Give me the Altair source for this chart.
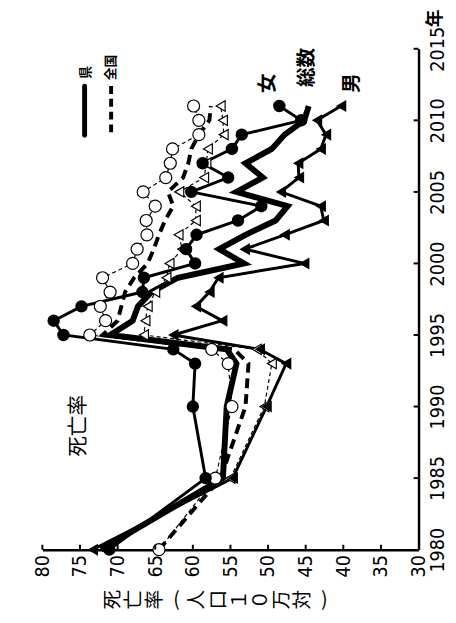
import altair as alt
import pandas as pd

# ---- data ----
years = [1980, 1985, 1990, 1993, 1994, 1995, 1996, 1997, 1998, 1999, 2000,
         2001, 2002, 2003, 2004, 2005, 2006, 2007, 2008, 2009, 2010, 2011]

pref_total = [72.2, 56.0, 55.5, 54.2, 55.5, 71.0, 68.0, 67.3, 65.5, 62.0, 53.2,
              56.5, 53.0, 49.0, 47.4, 54.2, 50.7, 53.0, 49.5, 47.8, 45.2, 44.6]
pref_female = [71.1, 58.3, 60.0, 59.7, 62.6, 77.2, 78.5, 74.8, 66.7, 66.5, 59.7,
               60.9, 59.5, 54.0, 50.9, 60.2, 55.3, 58.7, 54.8, 53.5, 45.6, 48.5]
pref_male = [73.3, 54.7, 50.2, 47.6, 51.1, 62.6, 56.1, 59.6, 57.8, 56.6, 45.2,
             53.1, 47.8, 42.6, 43.0, 48.3, 45.9, 46.0, 43.0, 42.3, 43.5, 40.3]
nat_total = [64.5, 56.3, 53.0, 52.6, 54.5, 72.0, 70.0, 69.5, 69.0, 67.8, 66.0,
             65.2, 64.5, 63.7, 62.6, 63.3, 61.3, 60.6, 60.2, 59.2, 57.8, 57.6]
nat_female = [64.5, 57.0, 54.8, 55.3, 57.5, 73.7, 71.6, 72.3, 71.0, 72.0, 68.0,
              67.4, 66.1, 66.2, 65.0, 66.6, 63.6, 63.0, 62.7, 59.2, 59.2, 59.9]
nat_male = [None, 55.0, 50.5, 49.5, 51.5, 66.5, 66.3, 66.0, 65.0, 63.5, 63.1,
            61.4, 61.9, 59.6, 59.6, 61.8, 58.5, 58.2, 58.0, 55.9, 56.0, 56.3]

rate_ticks = [35, 40, 45, 50, 55, 60, 65, 70, 75, 80]
year_ticks = [1985, 1990, 1995, 2000, 2005, 2010, 2015]
rate_labels = [30, 35, 40, 45, 50, 55, 60, 65, 70, 75, 80]
year_labels = [1980, 1985, 1990, 1995, 2000, 2005, 2010, 2015]

title_chars = ["死", "亡", "率", "(", "人", "口", "１", "０", "万", "対", ")"]

series = {
    "pref_total": pref_total, "pref_female": pref_female, "pref_male": pref_male,
    "nat_total": nat_total, "nat_female": nat_female, "nat_male": nat_male,
}
rows = []
for name, vals in series.items():
    for yr, v in zip(years, vals):
        if v is not None:
            rows.append({"series": name, "year": yr, "rate": v})
df = pd.DataFrame(rows)

W, H = 383, 510
NARROW = "Liberation Sans Narrow, DejaVu Sans Condensed, Arial Narrow, sans-serif"
JP = "Noto Sans CJK JP"

x_enc = alt.X("rate:Q", scale=alt.Scale(domain=[30, 80], reverse=True),
              axis=alt.Axis(orient="bottom", values=rate_labels, labelAngle=270,
                            labelAlign="right", labelBaseline="middle",
                            labelFont=NARROW, labelFontSize=20, labelColor="black",
                            labelPadding=5, ticks=False, grid=False, title=None,
                            domainColor="black", domainWidth=2.5,
                            labelOverlap=False, labelFlush=False))
y_enc = alt.Y("year:Q", scale=alt.Scale(domain=[1980, 2015]),
              axis=alt.Axis(orient="right", values=year_labels, format="d",
                            labelAngle=270, labelAlign="center", labelBaseline="top",
                            labelFont=NARROW, labelFontSize=20, labelColor="black",
                            labelPadding=9, ticks=False, grid=False, title=None,
                            domainColor="black", domainWidth=2.5,
                            labelOverlap=False, labelFlush=False))

base = alt.Chart(df).encode(x=x_enc, y=y_enc, order=alt.Order("year:Q"))


def sel(name):
    return alt.datum.series == name


layers = []
# national lines
layers.append(base.transform_filter(sel("nat_female")).mark_line(
    color="black", strokeWidth=1.2, strokeDash=[4, 3]))
layers.append(base.transform_filter(sel("nat_male")).mark_line(
    color="black", strokeWidth=1.2, strokeDash=[4, 3]))
layers.append(base.transform_filter(sel("nat_total")).mark_line(
    color="black", strokeWidth=4, strokeDash=[10, 6]))
# prefecture lines
layers.append(base.transform_filter(sel("pref_female")).mark_line(
    color="black", strokeWidth=3))
layers.append(base.transform_filter(sel("pref_male")).mark_line(
    color="black", strokeWidth=3))
layers.append(base.transform_filter(sel("pref_total")).mark_line(
    color="black", strokeWidth=6))
# national markers
layers.append(base.transform_filter(sel("nat_female")).mark_point(
    shape="circle", filled=True, fill="white", stroke="black", strokeWidth=1.2,
    size=150, opacity=1))
layers.append(base.transform_filter(sel("nat_male")).mark_point(
    shape="triangle-left", filled=True, fill="white", stroke="black", strokeWidth=1.2,
    size=110, opacity=1))
# prefecture markers
layers.append(base.transform_filter(sel("pref_female")).mark_point(
    shape="circle", filled=True, color="black", size=160, opacity=1))
layers.append(base.transform_filter(sel("pref_male")).mark_point(
    shape="triangle-left", filled=True, color="black", size=150, opacity=1))

# inward tick marks (same encodings so the axes merge)
tick_r = alt.Chart(pd.DataFrame({"rate": rate_ticks})).mark_rule(
    color="black", strokeWidth=2).encode(
    x=x_enc, y=alt.value(H), y2=alt.value(H - 5))
tick_y = alt.Chart(pd.DataFrame({"year": year_ticks})).mark_rule(
    color="black", strokeWidth=2).encode(
    y=y_enc, x=alt.value(W), x2=alt.value(W - 5))
layers += [tick_r, tick_y]


def txt(s, px, py, size, weight="normal", angle=270, font=JP):
    return alt.Chart(pd.DataFrame({"t": [s]})).mark_text(
        text=s, font=font, fontSize=size, fontWeight=weight, angle=angle,
        color="black", align="center", baseline="middle").encode(
        x=alt.value(px), y=alt.value(py))


# annotations
layers.append(txt("死亡率", 37, 384, 21))
layers.append(txt("女", 230, 35, 20, "bold"))
layers.append(txt("総数", 270, 19, 20, "bold"))
layers.append(txt("男", 315, 35, 20, "bold"))
layers.append(txt("年", 401, -31, 18, "bold"))
layers.append(txt("県", 44, 24, 13, "bold"))
layers.append(txt("全国", 70, 19, 13, "bold"))

# legend lines
layers.append(alt.Chart(pd.DataFrame({"t": [0]})).mark_rule(
    color="black", strokeWidth=5, strokeCap="round").encode(
    x=alt.value(43), y=alt.value(38), y2=alt.value(88)))
layers.append(alt.Chart(pd.DataFrame({"t": [0]})).mark_rule(
    color="black", strokeWidth=4, strokeDash=[8, 5]).encode(
    x=alt.value(70), y=alt.value(38), y2=alt.value(88)))

# axis title, character by character (vertical-writing look)
for i, ch in enumerate(title_chars):
    px = 72 + i * 21.5
    ang = 0 if ch in "()" else 270
    layers.append(txt(ch, px, 561, 20, "normal", ang))

chart = alt.layer(*layers).properties(
    width=W, height=H,
    padding={"left": 35, "top": 36, "right": 30, "bottom": 60},
    autosize=alt.AutoSizeParams(type="none"),
    background="white",
).configure_view(stroke=None)

chart.save("out.html", embed_options={"renderer": "svg", "actions": False})
